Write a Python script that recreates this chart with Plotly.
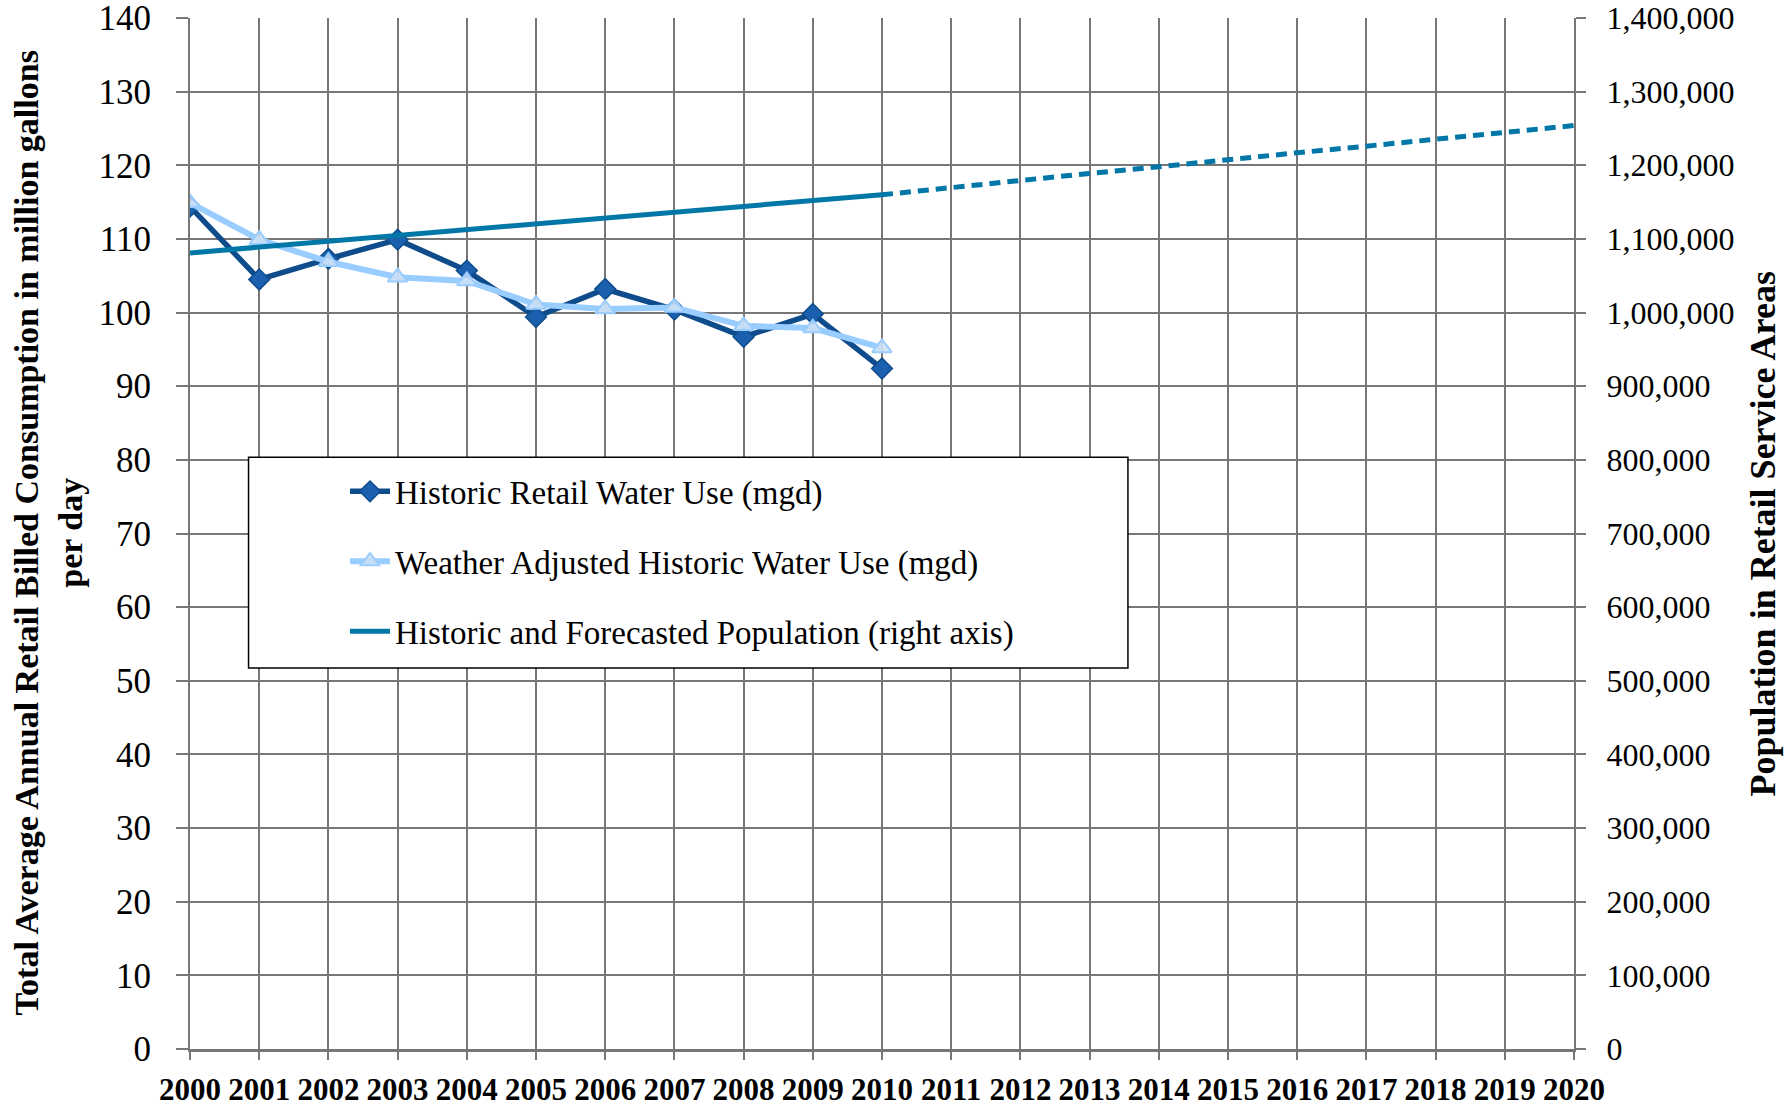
import plotly.graph_objects as go

# ---- data ----
years = [2000, 2001, 2002, 2003, 2004, 2005, 2006, 2007, 2008, 2009, 2010]
historic_use = [114.4, 104.5, 107.3, 109.9, 105.7, 99.4, 103.2, 100.4, 96.7, 99.8, 92.4]
weather_adj_use = [114.9, 109.9, 106.9, 104.8, 104.3, 101.1, 100.5, 100.7, 98.2, 97.9, 95.2]

pop_hist_years = [2000, 2001, 2002, 2003, 2004, 2005, 2006, 2007, 2008, 2009, 2010]
pop_hist = [1081000, 1089000, 1097000, 1104000, 1112000, 1120000,
            1128000, 1136000, 1144000, 1152000, 1160000]
pop_fc_years = [2010, 2011, 2012, 2013, 2014, 2015, 2016, 2017, 2018, 2019, 2020]
pop_fc = [1160000, 1170000, 1179000, 1189000, 1198000, 1208000,
          1217000, 1226000, 1235000, 1245000, 1254000]

left_ticks = [0, 10, 20, 30, 40, 50, 60, 70, 80, 90, 100, 110, 120, 130, 140]
right_ticks = [0, 100000, 200000, 300000, 400000, 500000, 600000, 700000,
               800000, 900000, 1000000, 1100000, 1200000, 1300000, 1400000]
x_ticks = list(range(2000, 2021))

names = ["Historic Retail Water Use (mgd)",
         "Weather Adjusted Historic Water Use (mgd)",
         "Historic and Forecasted Population (right axis)"]

FONT = "Liberation Serif"
GRID = "#777777"
C_HIST = "#0F4C8C"
C_HIST_M = "#1A60AE"
C_WADJ = "#99CCFF"
C_POP = "#0077A6"

fig = go.Figure()

fig.add_trace(go.Scatter(
    x=pop_hist_years, y=pop_hist, yaxis="y2", mode="lines",
    line=dict(color=C_POP, width=5), name=names[2],
    legendgroup="c", legendrank=3))
fig.add_trace(go.Scatter(
    x=pop_fc_years, y=pop_fc, yaxis="y2", mode="lines",
    line=dict(color=C_POP, width=5, dash="11px,7px"), showlegend=False,
    legendgroup="c"))
fig.add_trace(go.Scatter(
    x=years, y=historic_use, mode="lines+markers",
    line=dict(color=C_HIST, width=5.5),
    marker=dict(symbol="diamond", size=16, color=C_HIST_M,
                line=dict(color=C_HIST, width=1.5)),
    name=names[0], legendgroup="a", legendrank=1))
fig.add_trace(go.Scatter(
    x=years, y=weather_adj_use, mode="lines+markers",
    line=dict(color=C_WADJ, width=6),
    marker=dict(symbol="triangle-up", size=17, color="rgba(205,225,245,0.85)",
                line=dict(color=C_WADJ, width=2)),
    name=names[1], legendgroup="b", legendrank=2))

# legend box
fig.add_shape(type="rect", xref="paper", yref="paper",
              x0=0.0423, x1=0.6777, y0=0.3695, y1=0.574,
              line=dict(color="black", width=1.5), fillcolor="white",
              layer="above")

fig.add_annotation(
    text="<b>Total Average Annual Retail Billed Consumption in million gallons<br>per day</b>",
    xref="paper", yref="paper", x=-0.1026, y=0.5, xanchor="center", yanchor="middle",
    textangle=-90, showarrow=False, font=dict(family=FONT, size=34, color="black"))
fig.add_annotation(
    text="<b>Population in Retail Service Areas</b>",
    xref="paper", yref="paper", x=1.1365, y=0.5, xanchor="center", yanchor="middle",
    textangle=-90, showarrow=False, font=dict(family=FONT, size=36, color="black"))

fig.update_layout(
    width=1790, height=1106,
    margin=dict(l=190, r=216, t=18, b=57, autoexpand=False),
    paper_bgcolor="white", plot_bgcolor="white",
    font=dict(family=FONT, color="black"),
    showlegend=True,
    legend=dict(x=0.112, y=0.568, xanchor="left", yanchor="top",
                bgcolor="rgba(0,0,0,0)", borderwidth=0,
                font=dict(family=FONT, size=33, color="black"),
                tracegroupgap=24, itemwidth=40),
    xaxis=dict(range=[2000, 2020], tickvals=x_ticks, ticktext=[f"<b>{t}</b>" for t in x_ticks],
               showgrid=True, gridcolor=GRID, gridwidth=1.5,
               showline=True, linecolor=GRID, linewidth=2.5,
               ticks="outside", ticklen=8, tickcolor=GRID, tickwidth=1.5,
               ticklabelstandoff=3, zeroline=False, ticklabeloverflow="allow",
               tickfont=dict(family=FONT, size=31, color="black")),
    yaxis=dict(range=[0, 140], tickvals=left_ticks,
               showgrid=True, gridcolor=GRID, gridwidth=2,
               showline=True, linecolor=GRID, linewidth=2,
               ticks="outside", ticklen=12, tickcolor=GRID, tickwidth=1.5,
               ticklabelstandoff=18, zeroline=False, ticklabeloverflow="allow",
               tickfont=dict(family=FONT, size=35, color="black")),
    yaxis2=dict(range=[0, 1400000], tickvals=right_ticks, overlaying="y", side="right",
                tickformat=",d", showgrid=False,
                showline=True, linecolor=GRID, linewidth=2,
                ticks="outside", ticklen=10, tickcolor=GRID, tickwidth=1.5,
                ticklabelstandoff=14, zeroline=False, ticklabeloverflow="allow",
                tickfont=dict(family=FONT, size=32, color="black")),
)

# remove the page's default body margin so the figure fills the window exactly
fig.write_html("out.html",
               config={"displayModeBar": False},
               post_script="document.body.style.margin='0';document.body.style.overflow='hidden';")
